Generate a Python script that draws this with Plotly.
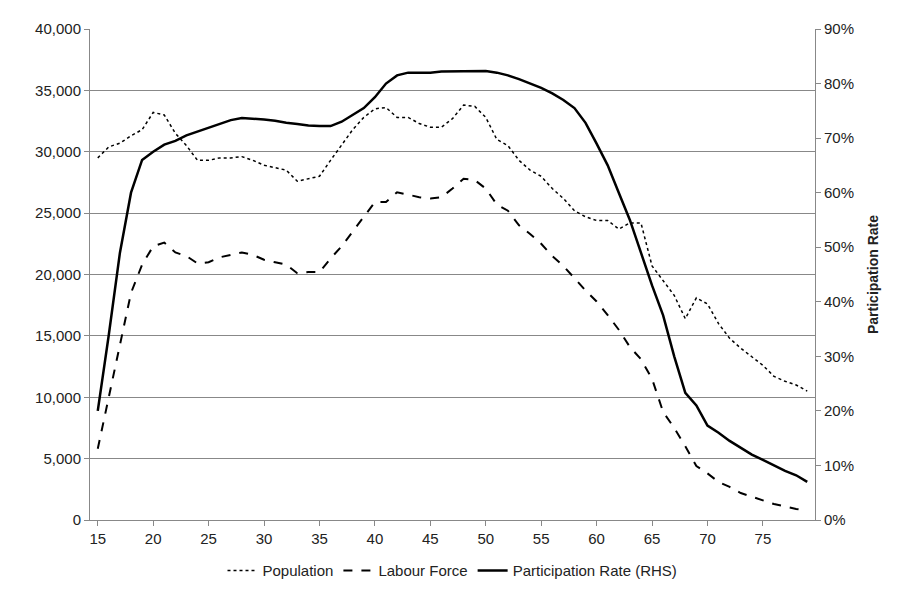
import plotly.graph_objects as go

ages = list(range(15, 80))

population = [29500, 30400, 30700, 31300, 31800, 33200, 33000, 31500, 30500, 29300,
              29300, 29500, 29500, 29600, 29300, 28900, 28700, 28500, 27600, 27800,
              28000, 29300, 30500, 31800, 32800, 33500, 33600, 32800, 32800, 32300,
              32000, 32000, 32700, 33800, 33700, 32800, 31000, 30500, 29300, 28500,
              28000, 27000, 26200, 25200, 24700, 24400, 24400, 23700, 24200, 24200,
              20700, 19500, 18300, 16400, 18100, 17600, 16000, 14800, 14000, 13300,
              12600, 11700, 11300, 11000, 10500]

labour_force = [5800, 10000, 14200, 18500, 20800, 22300, 22600, 21800, 21500, 20900,
                21000, 21400, 21600, 21800, 21600, 21200, 21000, 20800, 20100, 20200,
                20200, 21300, 22300, 23500, 24800, 25900, 25900, 26700, 26500, 26300,
                26200, 26300, 27000, 27800, 27700, 27000, 25700, 25200, 24000, 23300,
                22500, 21500, 20700, 19700, 18700, 17800, 16700, 15500, 14100, 13100,
                11500, 8800, 7500, 6000, 4400, 3800, 3100, 2700, 2200, 1900,
                1600, 1300, 1100, 900, 800]

participation = [20, 34, 49, 60, 66, 67.5, 68.8, 69.5, 70.5, 71.2,
                 72, 72.7, 73.3, 73.7, 73.6, 73.4, 73.2, 72.8, 72.6, 72.3,
                 72.2, 72.2, 73, 74.2, 75.5, 77.5, 80, 81.5, 82, 82,
                 82, 82.2, 82.2, 82.3, 82.3, 82.3, 82, 81.5, 80.8, 80,
                 79.2, 78.2, 77, 75.5, 72.8, 69, 65, 60, 55, 49,
                 43, 37.5, 30, 23.3, 21, 17.3, 16, 14.5, 13.2, 12,
                 11, 10, 9, 8.2, 7]
participation = [p / 100 for p in participation]

fig = go.Figure()
fig.add_trace(go.Scatter(x=ages, y=population, name="Population", mode="lines",
                         line=dict(color="black", width=1.5, dash="dot")))
fig.add_trace(go.Scatter(x=ages, y=labour_force, name="Labour Force", mode="lines",
                         line=dict(color="black", width=2, dash="dash")))
fig.add_trace(go.Scatter(x=ages, y=participation, name="Participation Rate (RHS)", mode="lines",
                         line=dict(color="black", width=2.5), yaxis="y2"))

fig.update_layout(
    width=907, height=591, plot_bgcolor="white", paper_bgcolor="white",
    font=dict(family="Liberation Sans", size=15, color="#222"),
    margin=dict(l=82, r=100, t=14, b=75),
    xaxis=dict(range=[14.3, 79.7], tickvals=list(range(15, 80, 5)), showgrid=False,
               showline=True, linecolor="#888", ticks="outside", tickcolor="#888"),
    yaxis=dict(range=[0, 40000], dtick=5000, tickformat=",", gridcolor="#888",
               showline=True, linecolor="#888", ticks="outside", tickcolor="#888"),
    yaxis2=dict(range=[0, 0.9], dtick=0.1, tickformat=".0%", overlaying="y", side="right",
                showgrid=False, showline=True, linecolor="#888", ticks="outside", tickcolor="#888",
                title=dict(text="<b>Participation Rate</b>", font=dict(size=14))),
    legend=dict(orientation="h", x=0.5, xanchor="center", y=-0.07, yanchor="top"),
)

fig.write_html("out.html")
